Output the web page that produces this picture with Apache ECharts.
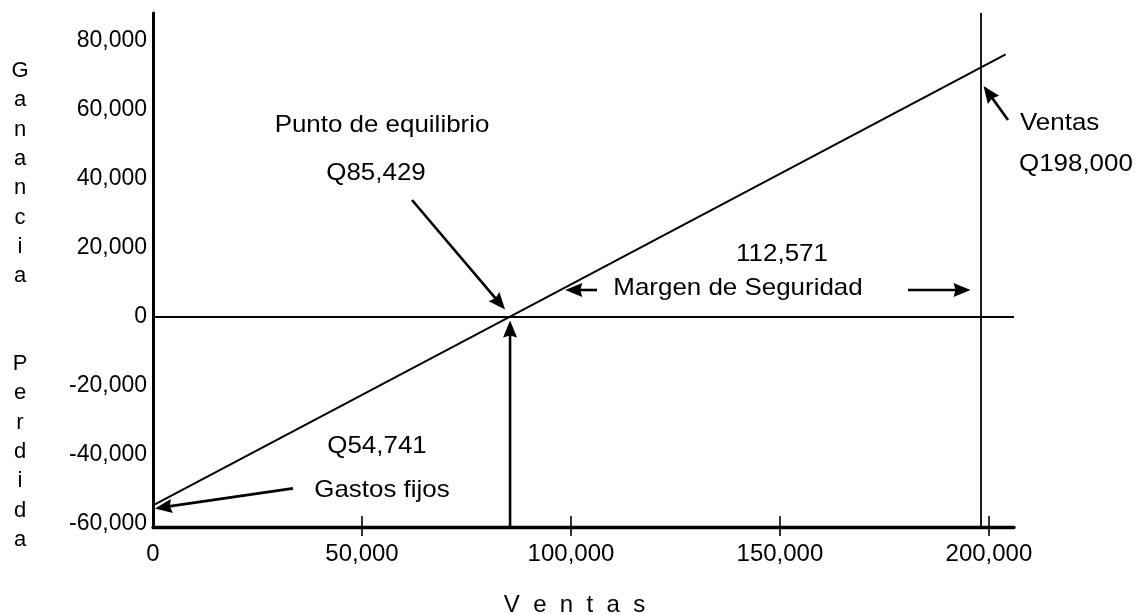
<!DOCTYPE html>
<html>
<head>
<meta charset="utf-8">
<script src="https://cdn.jsdelivr.net/npm/echarts@6/dist/echarts.min.js"></script>
<style>
html,body{margin:0;padding:0;background:#fff;}
#c{width:1139px;height:614px;}
</style>
</head>
<body>
<div id="c"></div>
<script>
// ---- data ----
const xTicks = [0, 50000, 100000, 150000, 200000];
const yTicks = [-60000, -40000, -20000, 0, 20000, 40000, 60000, 80000];
const profitPoints = [[0, -54741], [85429, 0], [204000, 76000]];
const fixedCost = 54741;
const breakEven = 85429;
const sales = 198000;
const safetyMargin = 112571;
const yTitleLetters = ['G','a','n','a','n','c','i','a','','','P','e','r','d','i','d','a'];
const xTitle = 'V  e  n  t  a  s';
const xRange = [0, 206000];
const yRange = [-61000, 88000];

const FONT = '"Liberation Sans", Arial, Helvetica, sans-serif';
const fmt = v => Number(v).toLocaleString('en-US');

const chart = echarts.init(document.getElementById('c'), null, {renderer: 'canvas'});

const tickStyle = {color: '#000', width: 1.6};
const option = {
  animation: false,
  backgroundColor: '#fff',
  grid: {left: 153, top: 13, right: 125, bottom: 87, containLabel: false, outerBoundsMode: 'none'},
  xAxis: [{
    type: 'value', min: xRange[0], max: xRange[1], position: 'bottom',
    axisLine: {show: true, onZero: false, lineStyle: {color: '#000', width: 3.3}},
    axisTick: {show: true, inside: false, length: 9, customValues: xTicks.filter(v => v > 0), lineStyle: tickStyle},
    axisLabel: {show: true, customValues: xTicks, formatter: fmt, fontSize: 24, fontFamily: FONT, color: '#000', margin: 15},
    splitLine: {show: false},
    name: xTitle, nameLocation: 'middle', nameGap: 66,
    nameTextStyle: {fontSize: 24, fontFamily: FONT, color: '#000', padding: [0, 18, 0, 0]}
  }, {
    type: 'value', min: xRange[0], max: xRange[1], position: 'bottom',
    axisLine: {show: false, onZero: false},
    axisTick: {show: true, inside: true, length: 11, customValues: xTicks.filter(v => v > 0), lineStyle: tickStyle},
    axisLabel: {show: false},
    splitLine: {show: false}
  }],
  yAxis: {
    type: 'value', min: yRange[0], max: yRange[1],
    axisLine: {show: true, onZero: false, lineStyle: {color: '#000', width: 3}},
    axisTick: {show: false},
    axisLabel: {customValues: yTicks, formatter: fmt, fontSize: 23, fontFamily: FONT, color: '#000', margin: 6},
    splitLine: {show: false}
  },
  series: [{
    type: 'line', data: profitPoints, xAxisIndex: 0, yAxisIndex: 0,
    symbol: 'none', silent: true,
    lineStyle: {color: '#000', width: 2},
    markLine: {
      silent: true, symbol: ['none', 'none'], label: {show: false},
      lineStyle: {color: '#000', type: 'solid', width: 1.8},
      emphasis: {disabled: true},
      data: [{yAxis: 0}, {xAxis: sales}]
    }
  }]
};
chart.setOption(option);

// ---- annotations (anchored on data through the chart's scales) ----
const px = p => chart.convertToPixel({gridIndex: 0}, p);

function arrow(x1, y1, x2, y2) {
  const headLen = 17, headW = 14, lw = 2.6;
  const dx = x2 - x1, dy = y2 - y1, L = Math.hypot(dx, dy);
  const ux = dx / L, uy = dy / L;
  const bx = x2 - ux * headLen, by = y2 - uy * headLen;
  const pxp = -uy * headW / 2, pyp = ux * headW / 2;
  return [
    {type: 'line', z: 20, shape: {x1: x1, y1: y1, x2: bx + ux * 3, y2: by + uy * 3},
     style: {stroke: '#000', lineWidth: lw}},
    {type: 'polygon', z: 20,
     shape: {points: [[x2, y2], [bx + pxp, by + pyp], [bx + ux * 2, by + uy * 2], [bx - pxp, by - pyp]]},
     style: {fill: '#000'}}
  ];
}
function txt(s, x, y, align, size, sx) {
  return {type: 'text', z: 20, x: x, y: y, scaleX: sx || 1,
    style: {text: s, fontSize: size, fontFamily: FONT, fill: '#000',
            align: align, verticalAlign: 'middle', textAlign: align, textVerticalAlign: 'middle'}};
}

const be = px([breakEven, 0]);
const fc = px([0, -fixedCost]);
const sv = px([sales, 0]);
const axisBottom = px([breakEven, yRange[0]]);
const pA = px(profitPoints[1]), pB = px(profitPoints[2]);
const lineXAt = yp => pA[0] + (yp - pA[1]) * (pB[0] - pA[0]) / (pB[1] - pA[1]);

const AS = 1.08; // annotation text width scale
const marginY = 290;
const graphics = [
  {type: 'text', z: 20, x: 20, y: 56.4,
   style: {text: yTitleLetters.join('\n'), fontSize: 22, fontFamily: FONT, fill: '#000',
           lineHeight: 29.3, align: 'center', verticalAlign: 'top', textAlign: 'center', textVerticalAlign: 'top'}},
  txt('Punto de equilibrio', 382, 125, 'center', 24, AS),
  txt('Q' + fmt(breakEven), 376, 173, 'center', 24, AS),
  txt('Q' + fmt(fixedCost), 377, 446, 'center', 24, AS),
  txt('Gastos fijos', 382, 490, 'center', 24, AS),
  txt(fmt(safetyMargin), 782, 254, 'center', 24, AS),
  txt('Margen de Seguridad', 738, 288, 'center', 24, AS),
  txt('Ventas', 1020, 123, 'left', 24, AS),
  txt('Q' + fmt(sales), 1019, 164, 'left', 24, AS)
]
  .concat(arrow(412, 200, be[0] - 5, be[1] - 7))
  .concat(arrow(be[0], axisBottom[1], be[0], be[1] + 4))
  .concat(arrow(293, fc[1] - 17, fc[0] + 2, fc[1] + 3))
  .concat(arrow(1008, 120, sv[0] + 3, 86))
  .concat(arrow(597, marginY, lineXAt(marginY) + 5, marginY))
  .concat(arrow(908, marginY, sv[0] - 10, marginY));

chart.setOption({graphic: {elements: graphics}});
</script>
</body>
</html>
